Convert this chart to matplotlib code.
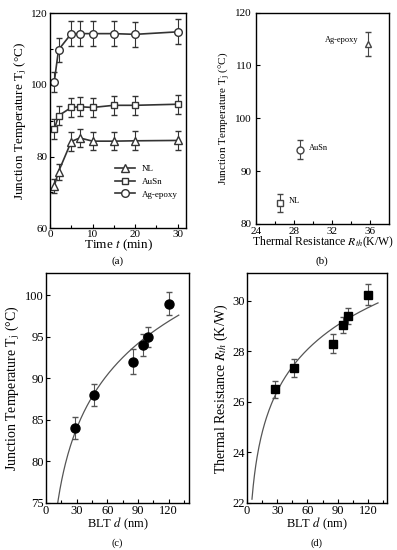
import numpy as np
import matplotlib
matplotlib.use("Agg")
from matplotlib import pyplot as plt

plt.rcParams['font.family'] = ['Liberation Serif', 'DejaVu Serif']
plt.rcParams['mathtext.fontset'] = 'stix'

# (a) junction temperature vs time
time_min = [1, 2, 5, 7, 10, 15, 20, 30]
tj_nl = [71.8, 75.8, 84.2, 85.2, 84.3, 84.3, 84.4, 84.5]
tj_ausn = [87.6, 91.4, 93.7, 93.9, 93.7, 94.3, 94.3, 94.6]
tj_ag = [100.9, 109.8, 114.3, 114.3, 114.3, 114.3, 114.1, 114.8]
err_nl = [2.0, 2.2, 2.6, 2.6, 2.6, 2.6, 2.6, 2.6]
err_ausn = [2.8, 2.7, 2.7, 2.7, 2.7, 2.7, 2.7, 2.7]
err_ag = [2.8, 3.4, 3.5, 3.5, 3.5, 3.5, 3.5, 3.5]

# (b) junction temperature vs thermal resistance
b_names = ['NL', 'AuSn', 'Ag-epoxy']
b_rth = [26.5, 28.6, 35.8]
b_tj = [84.0, 94.0, 114.0]
b_err = [1.7, 1.8, 2.3]

# (c), (d) vs BLT
blt = [28, 47, 85, 95, 100, 120]
c_tj = [84.0, 88.0, 92.0, 94.0, 95.0, 99.0]
c_err = [1.3, 1.3, 1.5, 1.3, 1.2, 1.4]
d_rth = [26.5, 27.35, 28.3, 29.05, 29.4, 30.25]
d_err = [0.33, 0.35, 0.37, 0.33, 0.3, 0.4]

fig = plt.figure(figsize=(3.97, 5.5), dpi=100)

def style(ax, fs):
    ax.tick_params(direction='in', which='both', labelsize=fs, width=0.8, pad=1.5)
    ax.tick_params(which='major', length=3)
    ax.tick_params(which='minor', length=2)
    for s in ax.spines.values():
        s.set_linewidth(1.0)

tj_label = 'Junction Temperature T$_\\mathrm{j}$ (°C)'

# ---- (a)
ax = fig.add_axes([0.126, 0.585, 0.343, 0.391])
ax.errorbar(time_min, tj_nl, yerr=err_nl, marker='^', color='#333333', mfc='white', ms=6,
            lw=1.2, elinewidth=0.8, capsize=2.5, label='NL')
ax.errorbar(time_min, tj_ausn, yerr=err_ausn, marker='s', color='#333333', mfc='white', ms=5,
            lw=1.2, elinewidth=0.8, capsize=2.5, label='AuSn')
ax.errorbar(time_min, tj_ag, yerr=err_ag, marker='o', color='#333333', mfc='white', ms=5.5,
            lw=1.2, elinewidth=0.8, capsize=2.5, label='Ag-epoxy')
ax.set_xlim(0, 32)
ax.set_ylim(60, 120)
ax.set_xticks([0, 10, 20, 30])
ax.set_xticks([5, 15, 25], minor=True)
ax.set_yticks([60, 80, 100, 120])
ax.set_yticks([70, 90, 110], minor=True)
style(ax, 8)
ax.set_xlabel('Time $t$ (min)', fontsize=9.5, labelpad=-1)
ax.set_ylabel(tj_label, fontsize=9.5, labelpad=2)
h, l = ax.get_legend_handles_labels()
h = [x[0] for x in h]
ax.legend(h, l, loc='lower right', frameon=False, fontsize=6.5, handlelength=2.2,
          bbox_to_anchor=(1.0, 0.1), labelspacing=0.5)
fig.text(0.297, 0.52, '(a)', ha='center', fontsize=8)

# ---- (b)
ax = fig.add_axes([0.645, 0.593, 0.335, 0.384])
for name, x, y, e, m in zip(b_names, b_rth, b_tj, b_err, ['s', 'o', '^']):
    ax.errorbar([x], [y], yerr=[e], marker=m, color='#444444', mfc='white', ms=5,
                ls='none', elinewidth=0.8, capsize=2.5)
ax.text(b_rth[0] + 0.9, b_tj[0] + 0.4, b_names[0], fontsize=6, va='center')
ax.text(b_rth[1] + 1.0, b_tj[1] + 0.3, b_names[1], fontsize=6, va='center')
ax.text(b_rth[2] - 1.0, b_tj[2] + 0.9, b_names[2], fontsize=6, va='center', ha='right')
ax.set_xlim(24, 38)
ax.set_ylim(80, 120)
ax.set_xticks([24, 28, 32, 36])
ax.set_xticks([26, 30, 34], minor=True)
ax.set_yticks([80, 90, 100, 110, 120])
style(ax, 8)
ax.tick_params(axis='y', pad=3)
ax.tick_params(axis='x', pad=2)
ax.set_xlabel('Thermal Resistance $R_{th}$(K/W)', fontsize=8.5, labelpad=-1)
ax.set_ylabel(tj_label, fontsize=8, labelpad=2)
fig.text(0.812, 0.52, '(b)', ha='center', fontsize=8)

# ---- (c)
ax = fig.add_axes([0.116, 0.0855, 0.360, 0.418])
a, b = np.polyfit(np.log(blt), c_tj, 1)
xf = np.linspace(10, 130, 200)
ax.plot(xf, a * np.log(xf) + b, color='#555555', lw=0.9)
ax.errorbar(blt, c_tj, yerr=c_err, marker='o', color='black', ms=6.5, ls='none',
            ecolor='#555555', elinewidth=0.8, capsize=2.5)
ax.set_xlim(0, 140)
ax.set_ylim(75, 102.7)
ax.set_xticks([0, 30, 60, 90, 120])
ax.set_xticks([15, 45, 75, 105, 135], minor=True)
ax.set_yticks([75, 80, 85, 90, 95, 100])
style(ax, 9)
ax.set_xlabel('BLT $d$ (nm)', fontsize=9, labelpad=-1)
ax.set_ylabel(tj_label, fontsize=10, labelpad=2)
fig.text(0.295, 0.008, '(c)', ha='center', fontsize=7.5)

# ---- (d)
ax = fig.add_axes([0.622, 0.0855, 0.353, 0.418])
a, b = np.polyfit(np.log(blt), d_rth, 1)
xf = np.linspace(5, 130, 200)
ax.plot(xf, a * np.log(xf) + b, color='#555555', lw=0.9)
ax.errorbar(blt, d_rth, yerr=d_err, marker='s', color='black', ms=6, ls='none',
            ecolor='#555555', elinewidth=0.8, capsize=2.5)
ax.set_xlim(0, 139)
ax.set_ylim(22, 31.1)
ax.set_xticks([0, 30, 60, 90, 120])
ax.set_xticks([15, 45, 75, 105, 135], minor=True)
ax.set_yticks([22, 24, 26, 28, 30])
style(ax, 9)
ax.set_xlabel('BLT $d$ (nm)', fontsize=9, labelpad=-1)
ax.set_ylabel('Thermal Resistance $R_{th}$ (K/W)', fontsize=10, labelpad=2)
fig.text(0.798, 0.008, '(d)', ha='center', fontsize=7.5)

fig.savefig('out.png', dpi=100)
